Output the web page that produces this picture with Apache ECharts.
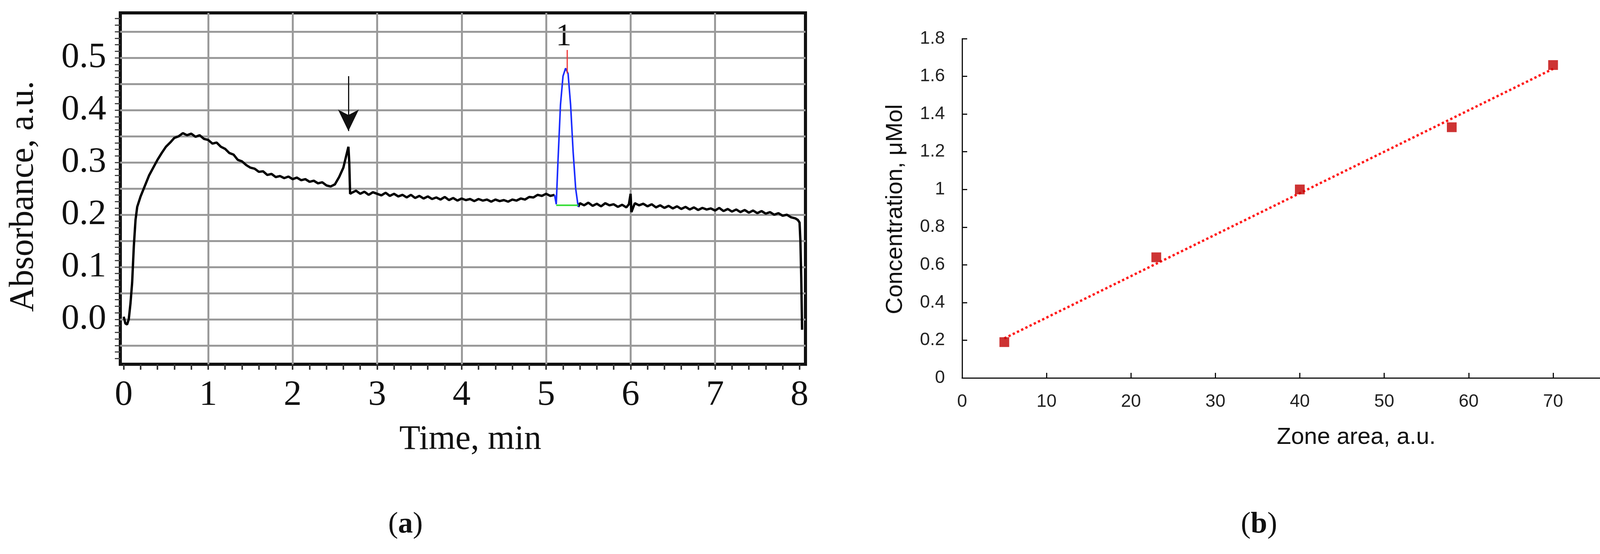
<!DOCTYPE html>
<html><head><meta charset="utf-8">
<script src="https://cdn.jsdelivr.net/npm/echarts@6/dist/echarts.min.js"></script>
<style>html,body{margin:0;padding:0;background:#fff}#c{width:4230px;height:1419px}</style>
</head><body><div id="c"></div>
<script>
// ---- Panel (a) data ----
const traceBefore = [[0,0.005],[0.02,-0.008],[0.04,-0.01],[0.06,0],[0.08,0.03],[0.1,0.07],[0.12,0.14],[0.14,0.19],[0.16,0.215],[0.2,0.235],[0.25,0.255],[0.3,0.275],[0.35,0.29],[0.4,0.305],[0.45,0.318],[0.5,0.33],[0.55,0.338],[0.6,0.347],[0.65,0.35],[0.7,0.356],[0.75,0.352],[0.8,0.355],[0.85,0.349],[0.9,0.352],[0.95,0.345],[1,0.343],[1.05,0.336],[1.1,0.338],[1.15,0.33],[1.2,0.326],[1.25,0.318],[1.3,0.315],[1.35,0.305],[1.4,0.302],[1.45,0.295],[1.5,0.29],[1.55,0.288],[1.6,0.282],[1.65,0.283],[1.7,0.276],[1.75,0.278],[1.8,0.272],[1.85,0.274],[1.9,0.27],[1.95,0.273],[2,0.268],[2.05,0.271],[2.1,0.266],[2.15,0.268],[2.2,0.263],[2.25,0.265],[2.3,0.26],[2.35,0.262],[2.4,0.256],[2.45,0.254],[2.5,0.258],[2.55,0.272],[2.6,0.29],[2.63,0.31],[2.66,0.33],[2.67,0.3],[2.68,0.24],[2.7,0.242],[2.75,0.246],[2.8,0.24],[2.85,0.244],[2.9,0.238],[2.95,0.243],[3,0.24],[3.05,0.237],[3.1,0.242],[3.15,0.236],[3.2,0.24],[3.25,0.235],[3.3,0.238],[3.35,0.233],[3.4,0.238],[3.45,0.232],[3.5,0.236],[3.55,0.231],[3.6,0.235],[3.65,0.23],[3.7,0.233],[3.75,0.229],[3.8,0.234],[3.85,0.228],[3.9,0.232],[3.95,0.227],[4,0.231],[4.05,0.228],[4.1,0.23],[4.15,0.226],[4.2,0.23],[4.25,0.227],[4.3,0.229],[4.35,0.225],[4.4,0.229],[4.45,0.226],[4.5,0.228],[4.55,0.225],[4.6,0.229],[4.65,0.227],[4.7,0.231],[4.75,0.229],[4.8,0.234],[4.85,0.233],[4.9,0.238],[4.95,0.236],[5,0.24],[5.05,0.236],[5.1,0.238]];
const peak = [[5.1,0.238],[5.12,0.22],[5.14,0.3],[5.17,0.41],[5.2,0.465],[5.23,0.48],[5.26,0.47],[5.29,0.41],[5.32,0.32],[5.35,0.25],[5.38,0.215]];
const traceAfter = [[5.38,0.215],[5.4,0.222],[5.45,0.218],[5.5,0.223],[5.55,0.217],[5.6,0.221],[5.65,0.216],[5.7,0.222],[5.75,0.218],[5.8,0.22],[5.85,0.215],[5.9,0.219],[5.95,0.214],[5.98,0.22],[6,0.24],[6.01,0.205],[6.05,0.222],[6.1,0.218],[6.15,0.221],[6.2,0.216],[6.25,0.22],[6.3,0.214],[6.35,0.218],[6.4,0.213],[6.45,0.217],[6.5,0.212],[6.55,0.216],[6.6,0.211],[6.65,0.215],[6.7,0.21],[6.75,0.214],[6.8,0.209],[6.85,0.213],[6.9,0.21],[6.95,0.212],[7,0.208],[7.05,0.213],[7.1,0.207],[7.15,0.211],[7.2,0.206],[7.25,0.21],[7.3,0.205],[7.35,0.209],[7.4,0.204],[7.45,0.208],[7.5,0.203],[7.55,0.207],[7.6,0.202],[7.65,0.205],[7.7,0.2],[7.75,0.203],[7.8,0.198],[7.85,0.2],[7.9,0.195],[7.95,0.193],[7.98,0.19],[8,0.185],[8.01,0.15],[8.02,0.08],[8.03,-0.02]];
const baseline = [[5.12,0.218],[5.38,0.218]];
const peakMark = [[5.25,0.47],[5.25,0.515]];
const arrowFrom = [2.66,0.465], arrowTo = [2.66,0.36];
const xLabelsA = [0,1,2,3,4,5,6,7,8];
const yLabelsA = [0,0.1,0.2,0.3,0.4,0.5];
const hGridA = [-0.05,0,0.05,0.1,0.15,0.2,0.25,0.3,0.35,0.4,0.45,0.5,0.55];
const vGridA = [1,2,3,4,5,6,7];
// ---- Panel (b) data ----
const zoneArea = [5,23,40,58,70];
const concentration = [0.19,0.64,1.0,1.33,1.66];
const trendX = [5,70], trendY = [0.21,1.64];

const xMinor = []; for (let i=0;i<=40;i++) xMinor.push(+(i*0.2).toFixed(2));
const yMinor = []; for (let i=-6;i<=46;i++) yMinor.push(+(i*0.0125).toFixed(4));

const serif = 'Liberation Serif';
const sans = 'Liberation Sans';
const narrow = 'Liberation Sans Narrow, Liberation Sans';

const chart = echarts.init(document.getElementById('c'));
chart.setOption({
  animation:false, backgroundColor:'#fff',
  grid:[
    {left:308,top:33,right:2168,bottom:486,show:true,borderColor:'#111',borderWidth:8,containLabel:false},
    {left:2463,top:99,right:38,bottom:451}
  ],
  xAxis:[
    {gridIndex:0,type:'value',min:-0.04,max:8.07,splitLine:{show:false},
     axisLine:{show:false,onZero:false},
     axisTick:{show:true,customValues:xMinor,length:14,lineStyle:{color:'#333',width:4}},
     axisLabel:{customValues:xLabelsA,fontFamily:serif,fontSize:92,color:'#111',margin:34}},
    {gridIndex:1,type:'value',min:0,max:80,interval:10,splitLine:{show:false},
     axisLine:{onZero:false,lineStyle:{color:'#111',width:3}},
     axisTick:{inside:true,length:13,lineStyle:{color:'#111',width:3}},
     axisLabel:{fontFamily:narrow,fontSize:46,color:'#222',margin:38,showMaxLabel:true,showMinLabel:true}}
  ],
  yAxis:[
    {gridIndex:0,type:'value',min:-0.086,max:0.586,splitLine:{show:false},
     axisLine:{show:false,onZero:false},
     axisTick:{show:true,customValues:yMinor,length:14,lineStyle:{color:'#444',width:3}},
     axisLabel:{customValues:yLabelsA,fontFamily:serif,fontSize:92,color:'#111',margin:36,
       formatter:v=>v.toFixed(1)}},
    {gridIndex:1,type:'value',min:0,max:1.8,interval:0.2,splitLine:{show:false},
     axisLine:{show:true,onZero:false,lineStyle:{color:'#111',width:3}},
     axisTick:{show:true,inside:true,length:13,lineStyle:{color:'#111',width:3}},
     axisLabel:{fontFamily:narrow,fontSize:46,color:'#222',margin:44,
       formatter:v=>String(+v.toFixed(1))}}
  ],
  series:[
    {type:'line',xAxisIndex:0,yAxisIndex:0,data:[],silent:true,
     markLine:{silent:true,symbol:'none',label:{show:false},lineStyle:{color:'#9a9a9a',width:5,type:'solid'},
       data:hGridA.map(v=>({yAxis:v})).concat(vGridA.map(v=>({xAxis:v})))}},
    {type:'line',xAxisIndex:0,yAxisIndex:0,data:traceBefore,showSymbol:false,lineStyle:{color:'#000',width:6},z:5},
    {type:'line',xAxisIndex:0,yAxisIndex:0,data:traceAfter,showSymbol:false,lineStyle:{color:'#000',width:6},z:5},
    {type:'line',xAxisIndex:0,yAxisIndex:0,data:peak,showSymbol:false,lineStyle:{color:'#1a2cff',width:4},z:6},
    {type:'line',xAxisIndex:0,yAxisIndex:0,data:baseline,showSymbol:false,lineStyle:{color:'#33dd33',width:4},z:6},
    {type:'line',xAxisIndex:0,yAxisIndex:0,data:peakMark,showSymbol:false,lineStyle:{color:'#ee3333',width:3},z:7},
    {type:'line',xAxisIndex:0,yAxisIndex:0,data:[],silent:true,
     markLine:{silent:true,symbol:['none','arrow'],symbolSize:[40,55],label:{show:false},
       lineStyle:{color:'#111',width:3,type:'solid'},
       data:[[{coord:arrowFrom},{coord:arrowTo}]]}},
    {type:'line',xAxisIndex:1,yAxisIndex:1,data:trendX.map((x,i)=>[x,trendY[i]]),showSymbol:false,
     lineStyle:{color:'#ff1a1a',width:6,type:'dotted'},z:3},
    {type:'scatter',xAxisIndex:1,yAxisIndex:1,data:zoneArea.map((x,i)=>[x,concentration[i]]),
     symbol:'rect',symbolSize:25,itemStyle:{color:'#c00000'},z:4}
  ],
  graphic:[
    {type:'text',x:61,y:503,rotation:Math.PI/2,style:{text:'Absorbance, a.u.',font:'88px '+serif,fill:'#111',align:'center',verticalAlign:'middle'}},
    {type:'text',x:1204,y:1127,style:{text:'Time, min',font:'88px '+serif,fill:'#111',align:'center',verticalAlign:'middle'}},
    {type:'text',x:1443,y:95,style:{text:'1',font:'80px '+serif,fill:'#111',align:'center',verticalAlign:'middle'}},
    {type:'text',x:1038,y:1344,style:{rich:{p:{font:'76px '+serif,fill:'#111'},b:{font:'bold 76px '+serif,fill:'#111'}},text:'{p|(}{b|a}{p|)}',align:'center',verticalAlign:'middle'}},
    {type:'text',x:2292,y:536,rotation:Math.PI/2,style:{text:'Concentration, μMol',font:'60px '+sans,fill:'#111',align:'center',verticalAlign:'middle'}},
    {type:'text',x:3472,y:1120,style:{text:'Zone area, a.u.',font:'60px '+narrow,fill:'#111',align:'center',verticalAlign:'middle'}},
    {type:'text',x:3223,y:1344,style:{rich:{p:{font:'76px '+serif,fill:'#111'},b:{font:'bold 76px '+serif,fill:'#111'}},text:'{p|(}{b|b}{p|)}',align:'center',verticalAlign:'middle'}}
  ]
});
</script></body></html>
